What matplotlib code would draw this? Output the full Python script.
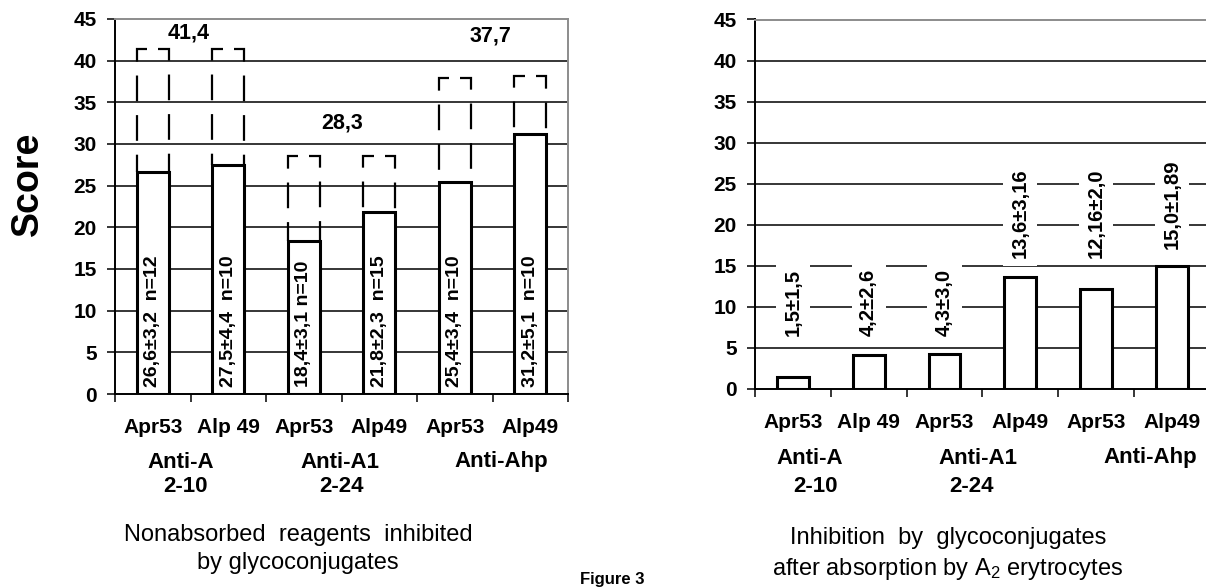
import matplotlib
matplotlib.use("Agg")
import matplotlib.pyplot as plt

plt.rcParams['font.family'] = ['Liberation Sans', 'DejaVu Sans']
plt.rcParams['mathtext.fontset'] = 'custom'
plt.rcParams['mathtext.rm'] = 'Liberation Sans'
plt.rcParams['mathtext.it'] = 'Liberation Sans:italic'
plt.rcParams['lines.scale_dashes'] = False

# ---------------- data ----------------
categories = ["Apr53", "Alp 49", "Apr53", "Alp49", "Apr53", "Alp49"]
yticks = [0, 5, 10, 15, 20, 25, 30, 35, 40, 45]

left_means = [26.6, 27.5, 18.4, 21.8, 25.4, 31.2]
left_upper = [41.4, 41.4, 28.6, 28.6, 37.9, 38.1]
left_bar_labels = ["26,6±3,2  n=12", "27,5±4,4  n=10", "18,4±3,1 n=10",
                   "21,8±2,3  n=15", "25,4±3,4  n=10", "31,2±5,1  n=10"]
left_group_max = ["41,4", "28,3", "37,7"]

right_means = [1.5, 4.2, 4.3, 13.6, 12.16, 15.0]
right_bar_labels = ["1,5±1,5", "4,2±2,6", "4,3±3,0",
                    "13,6±3,16", "12,16±2,0", "15,0±1,89"]

group_names = ["Anti-A", "Anti-A1", "Anti-Ahp"]
group_sub = ["2-10", "2-24", ""]

left_caption = ["Nonabsorbed  reagents  inhibited", "by glycoconjugates"]
right_caption = ["Inhibition  by  glycoconjugates", r"after absorption by A$_2$ erytrocytes"]
figure_title = "Figure 3"

# ---------------- layout ----------------
W, H = 1206, 588
fig = plt.figure(figsize=(W / 100, H / 100), dpi=100)
fig.patch.set_facecolor('white')


def fx(px):
    return px / W


def fy(py):
    return 1 - py / H


axL = fig.add_axes([fx(115), fy(394), (568 - 115) / W, (394 - 19) / H])
axR = fig.add_axes([fx(755), fy(389), 454.8 / W, (389 - 19.5) / H])

x = list(range(len(categories)))


def style(ax, xpad):
    ax.set_xlim(-0.5, 5.5)
    ax.set_ylim(0, 45)
    ax.set_yticks(yticks)
    ax.set_yticklabels([str(t) for t in yticks], fontsize=15, fontweight='bold')
    ax.set_xticks(x)
    ax.set_xticklabels(categories, fontsize=15, fontweight='bold')
    ax.set_xticks([i - 0.5 for i in range(len(categories) + 1)], minor=True)
    ax.tick_params(axis='x', which='major', length=0, pad=xpad)
    ax.tick_params(axis='x', which='minor', length=5.5, width=1.1, direction='out')
    ax.tick_params(axis='y', which='major', length=6, width=1.1, pad=7, direction='out')
    for t in yticks[1:-1]:
        ax.axhline(t, color='black', lw=1.1, zorder=1)
    for s in ['left', 'bottom']:
        ax.spines[s].set_color('black')
        ax.spines[s].set_linewidth(1.4)
    for s in ['top', 'right']:
        ax.spines[s].set_color('#8c8c8c')
        ax.spines[s].set_linewidth(1.4)
    ax.set_facecolor('white')


style(axL, 17)
style(axR, 17)

# ---------------- left chart ----------------
wL = 0.43
axL.bar(x, left_means, width=wL, color='white', edgecolor='black', linewidth=2.2, zorder=3)
dash = (2.2, (18.5, 10.0))
for i, (m, u) in enumerate(zip(left_means, left_upper)):
    xl, xr = i - wL / 2, i + wL / 2
    piece = wL * 0.33
    axL.plot([xl + piece, xl, xl], [u, u, m], color='black', lw=1.6,
             linestyle=dash, dash_joinstyle='miter', zorder=4)
    axL.plot([xr - piece, xr, xr], [u, u, m], color='black', lw=1.6,
             linestyle=dash, dash_joinstyle='miter', zorder=4)
    axL.text(i, 0.8, left_bar_labels[i], rotation=90, ha='center', va='bottom',
             fontsize=14, fontweight='bold', zorder=5)

max_pos = [(0.47, 43.3), (2.51, 32.5), (4.47, 43.0)]
for s, (px_, py_) in zip(left_group_max, max_pos):
    axL.text(px_, py_, s, ha='center', va='center', fontsize=15.5, fontweight='bold', zorder=5)

fig.text(fx(28), fy(184), "Score", rotation=90, ha='center', va='center',
         fontsize=27, fontweight='bold')

# ---------------- right chart ----------------
wR = 0.42
axR.bar(x, right_means, width=wR, color='white', edgecolor='black', linewidth=2.2, zorder=3)
label_bottom = [6.5, 6.5, 6.5, 15.9, 16.0, 17.1]
for i, s in enumerate(right_bar_labels):
    axR.text(i, label_bottom[i], s, rotation=90, ha='center', va='bottom',
             fontsize=14.5, fontweight='bold', zorder=5,
             bbox=dict(facecolor='white', edgecolor='none', pad=5.5))

# ---------------- group labels & captions ----------------
gl_left = [(181, 462), (340, 462), (501, 462)]
gs_left = [(185, 487), (342, 487), (0, 0)]
gl_right = [(810, 458), (978, 458), (1150, 458)]
gs_right = [(815, 487), (972, 487), (0, 0)]
for name, sub, p1, p2 in zip(group_names, group_sub, gl_left, gs_left):
    fig.text(fx(p1[0]), fy(p1[1]), name, ha='center', va='center', fontsize=16, fontweight='bold')
    if sub:
        fig.text(fx(p2[0]), fy(p2[1]), sub, ha='center', va='center', fontsize=16, fontweight='bold')
for name, sub, p1, p2 in zip(group_names, group_sub, gl_right, gs_right):
    fig.text(fx(p1[0]), fy(p1[1]), name, ha='center', va='center', fontsize=16, fontweight='bold')
    if sub:
        fig.text(fx(p2[0]), fy(p2[1]), sub, ha='center', va='center', fontsize=16, fontweight='bold')

fig.text(fx(298), fy(535), left_caption[0], ha='center', va='center', fontsize=17)
fig.text(fx(298), fy(563), left_caption[1], ha='center', va='center', fontsize=17)
fig.text(fx(948), fy(538), right_caption[0], ha='center', va='center', fontsize=17)
fig.text(fx(948), fy(569), right_caption[1], ha='center', va='center', fontsize=17)
fig.text(fx(580), fy(587), figure_title, ha='left', va='bottom', fontsize=12, fontweight='bold')

fig.savefig("out.png", dpi=100, facecolor='white')
